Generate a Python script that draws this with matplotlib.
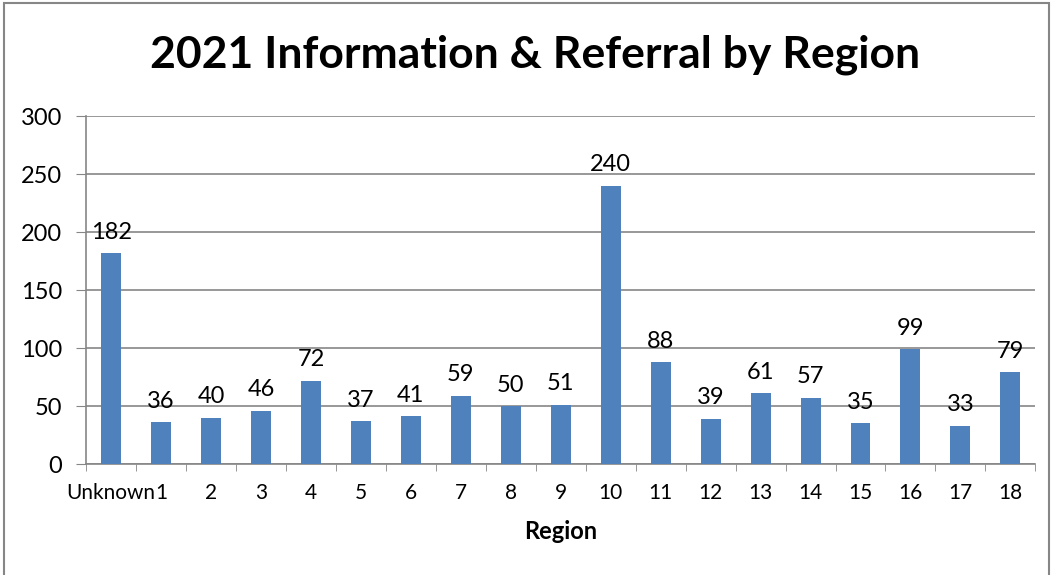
import numpy as np
import matplotlib.pyplot as plt
from matplotlib.patches import Rectangle

# data
regions = ['Unknown', '1', '2', '3', '4', '5', '6', '7', '8', '9',
           '10', '11', '12', '13', '14', '15', '16', '17', '18']
counts = [182, 36, 40, 46, 72, 37, 41, 59, 50, 51,
          240, 88, 39, 61, 57, 35, 99, 33, 79]

plt.rcParams['font.family'] = ['Lato', 'DejaVu Sans']

fig = plt.figure(figsize=(10.63, 5.75), dpi=100)
ax = fig.add_axes([0.081, 0.193, 0.893, 0.605])

x = np.arange(len(regions))
bars = ax.bar(x, counts, width=0.4, color='#4F81BD', zorder=3)
for xi, v in zip(x, counts):
    ax.text(xi, v + 9, str(v), ha='center', va='bottom', fontsize=17, zorder=4)

ax.set_xlim(-0.5, len(regions) - 0.5)
ax.set_ylim(0, 300)
ax.set_yticks(range(0, 301, 50))
ax.set_xticks(x)
ax.set_xticklabels(regions)
ax.set_xticks(np.arange(-0.5, len(regions), 1), minor=True)
ax.tick_params(axis='x', which='major', length=0, labelsize=15, pad=14)
ax.tick_params(axis='x', which='minor', length=5, color='#868686', direction='out')
ax.tick_params(axis='y', length=7, color='#868686', labelsize=17, pad=10)

ax.grid(axis='y', color='#868686', linewidth=1.2, zorder=0)
for s in ['top', 'right']:
    ax.spines[s].set_visible(False)
for s in ['left', 'bottom']:
    ax.spines[s].set_color('#868686')
    ax.spines[s].set_linewidth(1.2)

ax.set_xlabel('Region', fontsize=17, fontweight='bold', labelpad=12)
fig.suptitle('2021 Information & Referral by Region', fontsize=32,
             fontweight='bold', y=0.905, x=0.503, va='center')

fig.patches.append(Rectangle((0.004, -0.01), 0.983, 1.004, transform=fig.transFigure,
                             fill=False, edgecolor='#868686', linewidth=1.5))

fig.savefig('out.png', dpi=100)
